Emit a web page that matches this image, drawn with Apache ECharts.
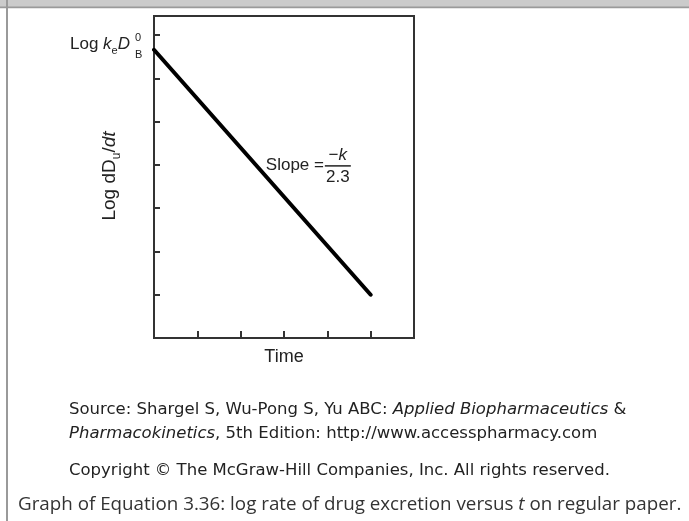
<!DOCTYPE html>
<html><head><meta charset="utf-8">
<script src="https://cdn.jsdelivr.net/npm/echarts@6/dist/echarts.min.js"></script>
<style>html,body{margin:0;padding:0;background:#fff}#c{width:689px;height:521px}</style>
</head><body><div id="c"></div>
<script>
// ---- data ----
const timeValues = [0, 5];
const logRateValues = [6.66, 1];
const xTickValues = [0, 1, 2, 3, 4, 5, 6];
const yTickValues = [0, 1, 2, 3, 4, 5, 6, 7];
const xAxisTitle = 'Time';
const sourceLine1 = ['Source: Shargel S, Wu-Pong S, Yu ABC: ', 'Applied Biopharmaceutics', ' &'];
const sourceLine2 = ['Pharmacokinetics', ', 5th Edition: http://www.accesspharmacy.com'];
const copyrightLine = 'Copyright \u00A9 The McGraw-Hill Companies, Inc. All rights reserved.';
const figCaption = ['Graph of Equation 3.36: log rate of drug excretion versus ', 't', ' on regular paper.'];

const chart = echarts.init(document.getElementById('c'), null, {renderer: 'canvas'});
const FONT = 'Liberation Sans';
const CAP = 'DejaVu Sans';

const option = {
  animation: false,
  backgroundColor: '#fff',
  grid: {left: 154, right: 275, top: 16, bottom: 183, show: true, borderColor: '#333', borderWidth: 2, backgroundColor: 'transparent'},
  xAxis: {
    type: 'value', min: xTickValues[0], max: xTickValues[xTickValues.length - 1], interval: 1,
    axisLine: {show: true, lineStyle: {color: '#333', width: 2}},
    axisTick: {show: true, inside: true, length: 7, lineStyle: {color: '#333', width: 2}},
    axisLabel: {show: false}, splitLine: {show: false},
    name: xAxisTitle, nameLocation: 'middle', nameGap: 10,
    nameTextStyle: {fontFamily: FONT, fontSize: 18, color: '#222', verticalAlign: 'top'}
  },
  yAxis: {
    type: 'value', min: yTickValues[0], max: 7.44, interval: 1,
    axisLine: {show: true, lineStyle: {color: '#333', width: 2}},
    axisTick: {show: true, inside: true, length: 6, lineStyle: {color: '#333', width: 2}},
    axisLabel: {show: false}, splitLine: {show: false}
  },
  series: [{
    type: 'line',
    data: timeValues.map((t, i) => [t, logRateValues[i]]),
    showSymbol: false, symbol: 'none',
    lineStyle: {color: '#000', width: 4, cap: 'round'}
  }]
};
chart.setOption(option);

const p0 = chart.convertToPixel({gridIndex: 0}, [timeValues[0], logRateValues[0]]);
const p1 = chart.convertToPixel({gridIndex: 0}, [timeValues[1], logRateValues[1]]);
const midX = p0[0] + (p1[0] - p0[0]) * 0.47;
const midY = p0[1] + (p1[1] - p0[1]) * 0.47;

const capRich = (size, color, font) => ({
  n: {fontFamily: font, fontSize: size, fill: color},
  i: {fontFamily: font, fontSize: size, fontStyle: 'italic', fill: color}
});

chart.setOption({
  graphic: [
    {type: 'rect', shape: {x: 0, y: 0, width: 689, height: 7}, style: {fill: '#cbcbcb'}, silent: true},
    {type: 'rect', shape: {x: 0, y: 6.5, width: 689, height: 1.7}, style: {fill: '#9a9a9a'}, silent: true},
    {type: 'rect', shape: {x: 6, y: 0, width: 2, height: 521}, style: {fill: '#9a9a9a'}, silent: true},
    {type: 'text', x: p0[0] - 24, y: p0[1] - 5, style: {
      text: '{n|Log }{i|k}{s|e}{i|D}', align: 'right', verticalAlign: 'middle',
      rich: {
        n: {fontFamily: FONT, fontSize: 17, fill: '#222', lineHeight: 24, verticalAlign: 'middle'},
        i: {fontFamily: FONT, fontSize: 17, fontStyle: 'italic', fill: '#222', lineHeight: 24, verticalAlign: 'middle'},
        s: {fontFamily: FONT, fontSize: 11, fill: '#222', lineHeight: 24, verticalAlign: 'bottom'}
      }}},
    {type: 'text', x: p0[0] - 19, y: p0[1] - 12, style: {text: '0', fontFamily: FONT, fontSize: 11, fill: '#222', align: 'left', verticalAlign: 'middle'}},
    {type: 'text', x: p0[0] - 19, y: p0[1] + 5, style: {text: 'B', fontFamily: FONT, fontSize: 11, fill: '#222', align: 'left', verticalAlign: 'middle'}},
    {type: 'text', x: 110, y: 176, rotation: Math.PI / 2, style: {
      text: '{n|Log dD}{s|u}{n|/}{i|dt}', align: 'center', verticalAlign: 'middle',
      rich: {
        n: {fontFamily: FONT, fontSize: 19, fill: '#222', lineHeight: 26, verticalAlign: 'middle'},
        i: {fontFamily: FONT, fontSize: 19, fontStyle: 'italic', fill: '#222', lineHeight: 26, verticalAlign: 'middle'},
        s: {fontFamily: FONT, fontSize: 12, fill: '#222', lineHeight: 26, verticalAlign: 'bottom'}
      }}},
    {type: 'text', x: midX + 10, y: midY, style: {text: 'Slope =', fontFamily: FONT, fontSize: 17, fill: '#222', align: 'left', verticalAlign: 'middle'}},
    {type: 'text', x: midX + 82, y: midY - 10, style: {text: '{n|\u2212}{i|k}', align: 'center', verticalAlign: 'middle',
      rich: {n: {fontFamily: FONT, fontSize: 17, fill: '#222'}, i: {fontFamily: FONT, fontSize: 17, fontStyle: 'italic', fill: '#222'}}}},
    {type: 'line', shape: {x1: midX + 69, y1: midY + 1, x2: midX + 95, y2: midY + 1}, style: {stroke: '#222', lineWidth: 1.5}},
    {type: 'text', x: midX + 82, y: midY + 12, style: {text: '2.3', fontFamily: FONT, fontSize: 17, fill: '#222', align: 'center', verticalAlign: 'middle'}},
    {type: 'text', x: 69, y: 410, style: {text: '{n|' + sourceLine1[0] + '}{i|' + sourceLine1[1] + '}{n|' + sourceLine1[2] + '}', verticalAlign: 'middle', rich: capRich(16.5, '#222', CAP)}},
    {type: 'text', x: 69, y: 434, style: {text: '{i|' + sourceLine2[0] + '}{n|' + sourceLine2[1] + '}', verticalAlign: 'middle', rich: capRich(16.5, '#222', CAP)}},
    {type: 'text', x: 69, y: 471, style: {text: copyrightLine, fontFamily: CAP, fontSize: 16.5, fill: '#222', verticalAlign: 'middle'}},
    {type: 'text', x: 18, y: 505, style: {text: '{n|' + figCaption[0] + '}{i|' + figCaption[1] + '}{n|' + figCaption[2] + '}', verticalAlign: 'middle', rich: capRich(18.8, '#333', 'Open Sans')}}
  ]
});
</script></body></html>
